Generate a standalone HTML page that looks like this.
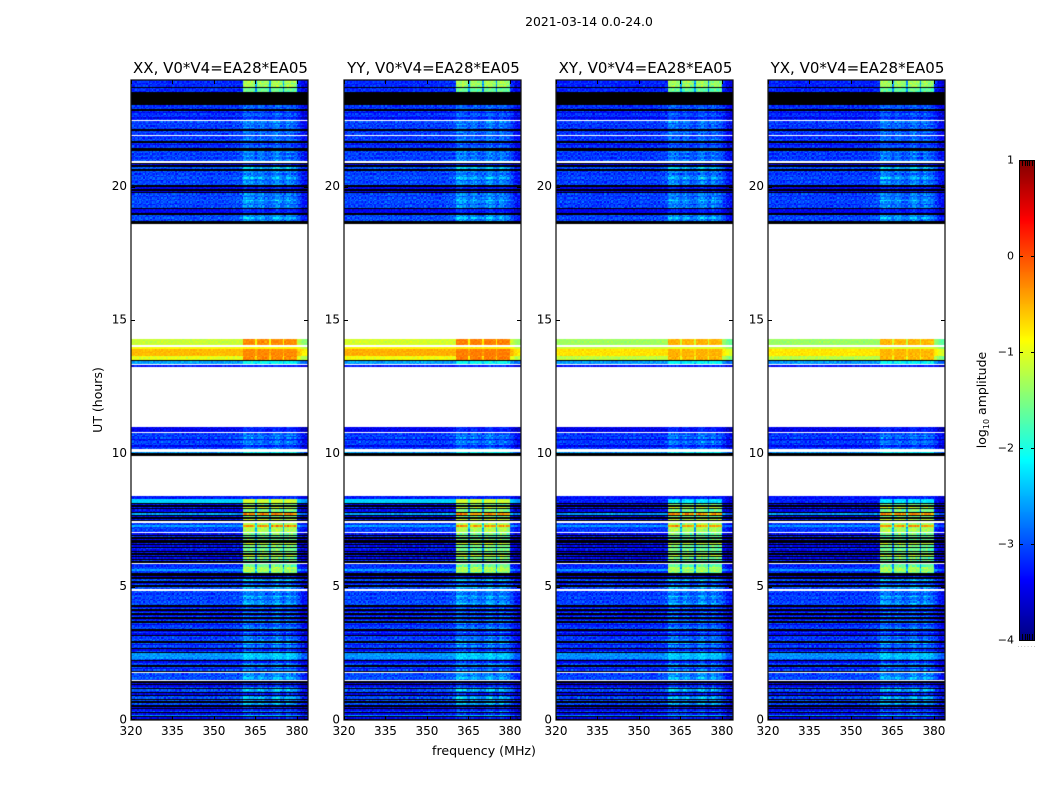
<!DOCTYPE html>
<html lang="en">
<head>
<meta charset="utf-8">
<title>2021-03-14 waterfall spectra</title>
<style>
html,body{margin:0;padding:0;background:#fff;}
#figure{position:relative;width:1050px;height:800px;overflow:hidden;background:#fff;font-family:"DejaVu Sans","Liberation Sans",sans-serif;}
#figure canvas{position:absolute;display:block;}
#overlay{position:absolute;left:0;top:0;}
#overlay text{font-family:"DejaVu Sans","Liberation Sans",sans-serif;fill:#000;}
</style>
</head>
<body>
<div id="figure">
<svg id="overlay" width="1050" height="800" viewBox="0 0 1050 800">
<text x="589" y="26" font-size="12.4" text-anchor="middle">2021-03-14 0.0-24.0</text>
<text x="484" y="755" font-size="12.6" text-anchor="middle">frequency (MHz)</text>
<text transform="translate(102,400) rotate(-90)" font-size="12.5" text-anchor="middle">UT (hours)</text>
<text transform="translate(986,400) rotate(-90)" font-size="12.5" text-anchor="middle">log<tspan font-size="8" dy="3">10</tspan><tspan dy="-3"> amplitude</tspan></text>
<text x="1026.5" y="647" font-size="6" fill="#888" style="fill:#888" text-anchor="middle" textLength="18">......</text>
</svg>
</div>
<script>
/* ---------- data ---------- */
const panelTitles = ['XX, V0*V4=EA28*EA05','YY, V0*V4=EA28*EA05','XY, V0*V4=EA28*EA05','YX, V0*V4=EA28*EA05'];
const freqTicks = [320,335,350,365,380];
const hourTicks = [0,5,10,15,20];
const colorTicks = [1,0,-1,-2,-3,-4];
const colorMinorFractions = [0.2,0.35,0.5,0.65,0.8];

/* per-row state, top (24 h) to bottom (0 h): [state letters, repeat] */
const rowRuns = [
['aaaaa',1],['k',1],['fff',1],['k',10],['bbb',1],['k',1],['bdbbbdb',1],['w',1],['cbcbcb',1],['k',1],
['bcb',1],['w',1],['bbcb',1],['k',1],['bdbb',1],['kk',1],['ccbccbcc',1],['w',1],['k',1],['d',1],['k',1],
['ee',1],['k',1],['ccbccecbccc',1],['k',1],['dd',1],['k',1],['d',1],['k',1],['ccbcceccbcc',1],['k',1],
['ddd',1],['k',1],['ccecc',1],['kk',1],
['w',86],
['qqqqq',1],['w',1],['y',1],['l',1],['ooooo',1],['ppp',1],['k',1],['rr',1],['w',1],['u',1],
['w',45],
['dddd',1],['w',1],['bcbcdbcbcdbc',1],['ww',1],['r',1],['kk',1],
['w',30],
['uu',1],['nnn',1],['k',1],['zkgkzzktkzkgk',1],['w',1],['vvtvvvv',1],['w',1],
['zkfkzkkgkzkfzkzkgkzkfk',1],['w',1],['ffvvxvfk',1],['kdkcekdckec',1],['w',1],
['ccbcecbccec',1],['kdckdckdckd',1],['ckcdbcckdcdkcbcckedcbkdck',1],['jjjj',1],
['ckdcckcdck',1],['w',1],['cccec',1],['w',1],['kdkdckeckdkcekckeckdkdckdjkdk',1]
];

/* log10 amplitude of each row state */
const stateBase  = {a:-3.2,b:-3.15,c:-3.05,d:-3.45,e:-3.0,z:-3.4,f:-3.2,g:-3.3,v:-3.1,t:-2.6,x:-2.6,n:-2.35,m:-3.2,j:-2.65,r:-2.6,u:-3.3,q:-1.15,p:-1.0,y:-0.95,l:-0.85,o:-0.55};
const stateBlock = {a:1.9,b:0,c:0,d:0,e:0,z:1.9,f:1.6,g:2.2,v:1.85,t:2.3,x:1.3,n:1.25,m:1.0,j:0.1,r:0.5,u:0,q:0.85,p:0.7,y:0.1,l:0.05,o:0.25};
const stateHaze  = {a:0,b:0.3,c:0.45,d:0.3,e:0.8,z:0,f:0,g:0,v:0,t:0,x:0,n:0,m:0,j:0.25,r:0,u:0.1,q:0,p:0,y:0,l:0,o:0};
const stateSpread= {a:0.25,b:0.28,c:0.3,d:0.22,e:0.28,z:0.25,f:0.25,g:0.25,v:0.25,t:0.2,x:0.2,n:0.08,m:0.2,j:0.2,r:0.2,u:0.2,q:0.12,p:0.15,y:0.08,l:0.05,o:0.1};

/* per-channel response, 128 channels from 320 MHz in 0.5 MHz steps */
const channelBlock = [
0,0,0,0,0,0,0,0,0,0, 0,0,0,0,0,0,0,0,0,0, 0,0,0,0,0,0,0,0,0,0, 0,0,0,0,0,0,0,0,0,0,
0,0,0,0,0,0,0,0,0,0, 0,0,0,0,0,0,0,0,0,0, 0,0,0,0,0,0,0,0,0,0, 0,0,0,0,0,0,0,0,0,0,
0,1,1,1,1,1,1,1,0.95,0.95, 0.3,0.95,0.95,1,1,1,0.95,0.95,0.95,0.95,
0.3,1,1,1,1,1,1,0.95,0.95,0.95, 0.3,0.95,0.95,1,1,1,0.95,0.95,0.95,0.9,
0,0,0,0,0,0,0,0];
const channelHaze = [
0,0,0,0,0,0,0,0,0,0, 0,0,0,0,0,0,0,0,0,0, 0,0,0,0,0,0,0,0,0,0, 0,0,0,0,0,0,0,0,0,0,
0,0,0,0,0,0,0,0,0,0, 0,0,0,0,0,0,0,0,0,0, 0,0,0,0,0,0,0,0,0,0, 0,0,0,0,0.1,0.1,0.1,0.1,0.1,0.2,
0.2,0.9,1,1,0.9,0.8,0.8,0.9,0.7,0.5, 0.4,0.6,0.7,0.9,0.8,0.7,0.5,0.4,0.4,0.3,
0.4,0.5,0.5,0.8,0.9,1,1,0.8,0.6,0.4, 0.3,0.4,0.8,0.9,0.7,0.8,0.5,0.5,0.5,0.3,
0.2,0.1,0.1,0,0,0,0,0];
const channelEdge = [
0,0,0,0,0,0,0,0,0,0, 0,0,0,0,0,0,0,0,0,0, 0,0,0,0,0,0,0,0,0,0, 0,0,0,0,0,0,0,0,0,0,
0,0,0,0,0,0,0,0,0,0, 0,0,0,0,0,0,0,0,0,0, 0,0,0,0,0,0,0,0,0,0, 0,0,0,0,0,0,0,0,0,0,
0,0,0,0,0,0,0,0,0,0, 0,0,0,0,0,0,0,0,0,0, 0,0,0,0,0,0,0,0,0,0, 0,0,0,0,0,0,0,0,0,0,
0,-0.05,-0.1,-0.2,-0.25,-0.3,-0.3,-0.3];

const speckleA = [0.6,-0.8,0.1,0.9,-0.3,-1,0.4,0.7,-0.6,0.2,-0.9,1,-0.1,0.5,-0.7,0.3,0.8,-0.4,-0.2,0.9,-1,0.6,0.1,-0.5,0.7,-0.8,0.4,-0.3,1,-0.6,0.2,0.5,-0.9,0.8,-0.1,-0.7,0.3,0.6,-0.4,0.9,-0.2,-1,0.7,0.1,-0.5,0.4,0.8,-0.8,-0.3,0.5,0.2,-0.6,1,-0.9,0.3,-0.1,0.7,-0.4,0.6,-0.7,0.2];
const speckleB = [-0.5,0.8,-0.2,0.3,1,-0.9,0.1,-0.6,0.7,0.4,-1,0.5,-0.3,0.9,-0.7,0.2,0.6,-0.1,-0.8,0.7,0.3,-0.4,1,-0.6,0.1,0.5,-0.9,0.8,-0.2,-0.5,0.4,0.9,-1,0.2,0.6,-0.7,-0.1,0.8,-0.3,0.5,-0.8,0.7,0.1,-0.4,1,-0.6,0.3,-0.9,0.6,-0.2,0.4,-0.5,0.9];

/* per-polarisation differences */
const panelHotTrim   = [0,0.06,-0.2,-0.22];
const panelQuietTrim = [0,0,-0.04,-0.04];
const panelCutBand   = ['n','n','m','m'];

/* ---------- layout ---------- */
const panelLeft = [131,344,556,768];
const plotTop = 80, plotHeight = 640, plotWidth = 177;
const freqMin = 320, freqMax = 384, hourMin = 0, hourMax = 24;
const barLeft = 1019, barWidth = 16, barTop = 160, barHeight = 480, barMin = -4, barMax = 1;
const SVGNS = 'http://www.w3.org/2000/svg';
const figure = document.getElementById('figure');
const overlay = document.getElementById('overlay');

function xScale(panel, mhz){ return panelLeft[panel] + (mhz - freqMin) / (freqMax - freqMin) * plotWidth; }
function yScale(hour){ return plotTop + (hourMax - hour) / (hourMax - hourMin) * plotHeight; }
function barScale(v){ return barTop + (barMax - v) / (barMax - barMin) * barHeight; }
function clamp01(t){ return Math.max(0, Math.min(1, t)); }
function jet(v){
  const t = clamp01((v - barMin) / (barMax - barMin));
  const r = clamp01(Math.min(4*t - 1.5, -4*t + 4.5));
  const g = clamp01(Math.min(4*t - 0.5, -4*t + 3.5));
  const b = clamp01(Math.min(4*t + 0.5, -4*t + 2.5));
  return 'rgb(' + Math.round(r*255) + ',' + Math.round(g*255) + ',' + Math.round(b*255) + ')';
}
function svgEl(tag, attrs){
  const el = document.createElementNS(SVGNS, tag);
  for (const key in attrs) el.setAttribute(key, attrs[key]);
  return el;
}

const rowStates = rowRuns.map(function(run){ return run[0].repeat(run[1]); }).join('').split('');
const channelCount = channelBlock.length;
const channelStep = (freqMax - freqMin) / channelCount;
const hourStep = (hourMax - hourMin) / rowStates.length;

function cellValue(panel, row, ch, state){
  if (state === 'n') state = panelCutBand[panel];
  const base = stateBase[state];
  const trim = base > -2 ? panelHotTrim[panel] : panelQuietTrim[panel];
  const a = speckleA[(ch + row*7 + panel*11) % speckleA.length];
  const b = speckleB[(ch*3 + row + panel*5) % speckleB.length];
  return base + trim + stateBlock[state]*channelBlock[ch] + stateHaze[state]*channelHaze[ch]
       + channelEdge[ch] + stateSpread[state]*(a + b)*0.7;
}

/* ---------- panels ---------- */
panelTitles.forEach(function(title, panel){
  const canvas = document.createElement('canvas');
  
  
  canvas.width = plotWidth;
  canvas.height = plotHeight;
  canvas.style.left = panelLeft[panel] + 'px';
  canvas.style.top = plotTop + 'px';
  figure.insertBefore(canvas, overlay);
  const ctx = canvas.getContext('2d');
  ctx.fillStyle = '#fff';
  ctx.fillRect(0, 0, plotWidth, plotHeight);
  rowStates.forEach(function(state, row){
    if (state === 'w') return;
    const y0 = Math.round(yScale(hourMax - row*hourStep)) - plotTop;
    const y1 = Math.round(yScale(hourMax - (row + 1)*hourStep)) - plotTop;
    if (state === 'k') {
      ctx.fillStyle = '#000';
      ctx.fillRect(0, y0, plotWidth, Math.max(1, y1 - y0));
      return;
    }
    for (let ch = 0; ch < channelCount; ch++) {
      const x0 = Math.round(xScale(panel, freqMin + ch*channelStep)) - panelLeft[panel];
      const x1 = Math.round(xScale(panel, freqMin + (ch + 1)*channelStep)) - panelLeft[panel];
      ctx.fillStyle = jet(cellValue(panel, row, ch, state));
      ctx.fillRect(x0, y0, x1 - x0, y1 - y0);
    }
  });

  const frame = svgEl('rect', {x: panelLeft[panel], y: plotTop, width: plotWidth, height: plotHeight, fill: 'none', stroke: '#111', 'stroke-width': 1.25});
  
  
  overlay.appendChild(frame);

  const heading = svgEl('text', {x: panelLeft[panel] + plotWidth/2 + 1, y: 73, 'font-size': 15, 'text-anchor': 'middle'});
  heading.textContent = title;
  
  
  overlay.appendChild(heading);

  freqTicks.forEach(function(f){
    const x = Math.round(xScale(panel, f)) + 0.5;
    const bottom = plotTop + plotHeight;
    const tick = svgEl('path', {d: 'M' + x + ' ' + bottom + 'V' + (bottom - 4) + 'M' + x + ' ' + plotTop + 'V' + (plotTop + 4), stroke: '#000', 'stroke-width': 1, fill: 'none'});
    
    
    overlay.appendChild(tick);
    const label = svgEl('text', {x: xScale(panel, f), y: 735, 'font-size': 12, 'text-anchor': 'middle'});
    label.textContent = f;
    
    
    overlay.appendChild(label);
  });
  hourTicks.forEach(function(h){
    const y = Math.round(yScale(h)) + (h === 0 ? -0.5 : 0.5);
    const left = panelLeft[panel];
    const right = left + plotWidth;
    const tick = svgEl('path', {d: 'M' + left + ' ' + y + 'H' + (left + 4) + 'M' + right + ' ' + y + 'H' + (right - 4), stroke: '#000', 'stroke-width': 1, fill: 'none'});
    
    
    overlay.appendChild(tick);
    const label = svgEl('text', {x: left - 4, y: yScale(h) + 3.5, 'font-size': 12, 'text-anchor': 'end'});
    label.textContent = h;
    
    
    overlay.appendChild(label);
  });
});

/* ---------- colorbar ---------- */
const bar = document.createElement('canvas');


bar.width = barWidth;
bar.height = barHeight;
bar.style.left = barLeft + 'px';
bar.style.top = barTop + 'px';
figure.insertBefore(bar, overlay);
const barCtx = bar.getContext('2d');
for (let py = 0; py < barHeight; py++) {
  barCtx.fillStyle = jet(barMax - (py + 0.5) / barHeight * (barMax - barMin));
  barCtx.fillRect(0, py, barWidth, 1);
}
const barFrame = svgEl('rect', {x: barLeft + 0.5, y: barTop + 0.5, width: barWidth - 1, height: barHeight, fill: 'none', stroke: '#000', 'stroke-width': 1});


overlay.appendChild(barFrame);
colorTicks.forEach(function(v){
  const y = Math.round(barScale(v)) + 0.5;
  const tick = svgEl('path', {d: 'M' + barLeft + ' ' + y + 'h4M' + (barLeft + barWidth) + ' ' + y + 'h-4', stroke: '#000', 'stroke-width': 1, fill: 'none'});
  
  
  overlay.appendChild(tick);
  const label = svgEl('text', {x: barLeft - 5, y: barScale(v) + 3.5, 'font-size': 11, 'text-anchor': 'end'});
  label.textContent = v < 0 ? '\u2212' + Math.abs(v) : String(v);
  
  
  overlay.appendChild(label);
});
colorMinorFractions.forEach(function(fr){
  const x = Math.round(barLeft + fr * barWidth) + 0.5;
  const tick = svgEl('path', {d: 'M' + x + ' ' + barTop + 'v6M' + x + ' ' + (barTop + barHeight) + 'v-6', stroke: '#000', 'stroke-width': 1, fill: 'none'});
  
  
  overlay.appendChild(tick);
});
</script>
</body>
</html>
